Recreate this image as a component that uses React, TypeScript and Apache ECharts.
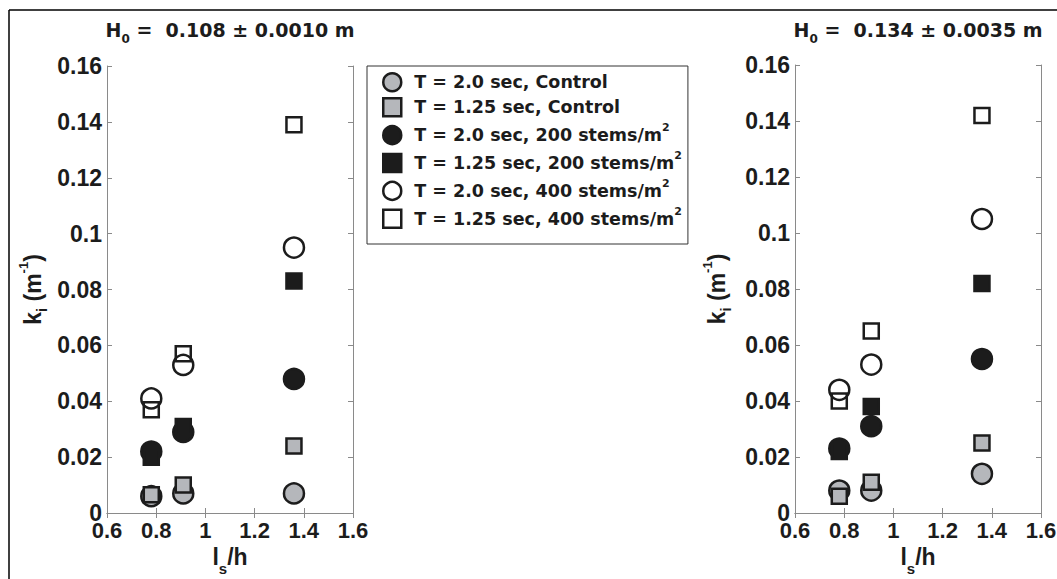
import React, { useEffect, useRef } from "react";
import * as echarts from "echarts";

// ---- data ----
const X_VALUES = [0.78, 0.91, 1.36];
const X_TICKS = { min: 0.6, max: 1.6, interval: 0.2 };
const Y_TICKS = { min: 0, max: 0.16, interval: 0.02 };

const SERIES_NAMES = [
  "T = 2.0 sec, Control",
  "T = 1.25 sec, Control",
  "T = 2.0 sec, 200 stems/m²",
  "T = 1.25 sec, 200 stems/m²",
  "T = 2.0 sec, 400 stems/m²",
  "T = 1.25 sec, 400 stems/m²",
];

const PANEL_TITLES = ["0.108 ± 0.0010 m", "0.134 ± 0.0035 m"];

// left panel (H0 = 0.108 m)
const LEFT_CTRL_T20 = [0.006, 0.007, 0.007];
const LEFT_CTRL_T125 = [0.0065, 0.010, 0.024];
const LEFT_200_T20 = [0.022, 0.029, 0.048];
const LEFT_200_T125 = [0.020, 0.031, 0.083];
const LEFT_400_T20 = [0.041, 0.053, 0.095];
const LEFT_400_T125 = [0.037, 0.057, 0.139];

// right panel (H0 = 0.134 m)
const RIGHT_CTRL_T20 = [0.008, 0.008, 0.014];
const RIGHT_CTRL_T125 = [0.006, 0.011, 0.025];
const RIGHT_200_T20 = [0.023, 0.031, 0.055];
const RIGHT_200_T125 = [0.022, 0.038, 0.082];
const RIGHT_400_T20 = [0.044, 0.053, 0.105];
const RIGHT_400_T125 = [0.040, 0.065, 0.142];

const LEFT_VALUES = [LEFT_CTRL_T20, LEFT_CTRL_T125, LEFT_200_T20, LEFT_200_T125, LEFT_400_T20, LEFT_400_T125];
const RIGHT_VALUES = [RIGHT_CTRL_T20, RIGHT_CTRL_T125, RIGHT_200_T20, RIGHT_200_T125, RIGHT_400_T20, RIGHT_400_T125];

// ---- styles ----
const FONT = "DejaVu Sans";
const FONT2 = "Liberation Sans";
const INK = "#1c1c1c";
const GRAY = "#b5b7bb";
const AXIS_GRAY = "#8a8a8a";
const MARKERS = [
  { symbol: "circle", size: 20, fill: GRAY, icon: "circle" },
  { symbol: "rect", size: 15, fill: GRAY, icon: "rect" },
  { symbol: "circle", size: 20, fill: INK, icon: "circle" },
  { symbol: "rect", size: 15, fill: INK, icon: "rect" },
  { symbol: "circle", size: 20, fill: "rgba(255,255,255,0)", icon: "circle" },
  { symbol: "rect", size: 15, fill: "rgba(255,255,255,0)", icon: "rect" },
];

const GRIDS = [
  { left: 107, top: 66, width: 246, height: 447 },
  { left: 795, top: 65, width: 246, height: 448 },
];

const richTitle = {
  b: { fontFamily: FONT, fontWeight: "bold", fontSize: 19, color: INK, lineHeight: 30, verticalAlign: "middle" },
  sub: { fontFamily: FONT, fontWeight: "bold", fontSize: 12, color: INK, lineHeight: 12, verticalAlign: "bottom" },
};

const richAxisX = {
  b: { fontFamily: FONT2, fontWeight: "bold", fontSize: 23, color: INK, lineHeight: 38, verticalAlign: "middle" },
  sub: { fontFamily: FONT2, fontWeight: "bold", fontSize: 15, color: INK, lineHeight: 6, verticalAlign: "bottom" },
};

const richAxisY = {
  b: { fontFamily: FONT2, fontWeight: "bold", fontSize: 23, color: INK, lineHeight: 32, verticalAlign: "middle" },
  sub: { fontFamily: FONT2, fontWeight: "bold", fontSize: 15, color: INK, lineHeight: 14, verticalAlign: "bottom" },
  sup: { fontFamily: FONT2, fontWeight: "bold", fontSize: 13, color: INK, lineHeight: 13, verticalAlign: "top" },
};

const tickLabelX = { fontFamily: FONT2, fontWeight: "bold", fontSize: 22, color: INK, margin: 6 };
const tickLabelY = { fontFamily: FONT2, fontWeight: "bold", fontSize: 23, color: INK, margin: 5 };

export default function App() {
  const ref = useRef<HTMLDivElement>(null);
  useEffect(() => {
    if (!ref.current) return;
    const chart = echarts.init(ref.current, null, { renderer: "svg" });

    const xAxes: any[] = [];
    const yAxes: any[] = [];
    GRIDS.forEach((_, g) => {
      xAxes.push({
        type: "value",
        gridIndex: g,
        position: "bottom",
        ...X_TICKS,
        name: "{b|l}{sub|s}{b|/h}",
        nameLocation: "middle",
        nameGap: 24,
        nameTextStyle: { rich: richAxisX },
        axisLine: { lineStyle: { color: AXIS_GRAY, width: 1 } },
        axisTick: { inside: true, length: 5, lineStyle: { color: AXIS_GRAY } },
        axisLabel: tickLabelX,
        splitLine: { show: false },
      });
      xAxes.push({
        type: "value",
        gridIndex: g,
        position: "top",
        ...X_TICKS,
        axisLine: { lineStyle: { color: AXIS_GRAY, width: 1 } },
        axisTick: { inside: true, length: 5, lineStyle: { color: AXIS_GRAY } },
        axisLabel: { show: false },
        splitLine: { show: false },
      });
      yAxes.push({
        type: "value",
        gridIndex: g,
        position: "left",
        ...Y_TICKS,
        name: "{b|k}{sub|i}{b| (m}{sup|-1}{b|)}",
        nameLocation: "middle",
        nameRotate: 90,
        nameGap: g === 0 ? 58 : 62,
        nameTextStyle: { rich: richAxisY },
        axisLine: { show: true, lineStyle: { color: AXIS_GRAY, width: 1 } },
        axisTick: { show: true, inside: true, length: 5, lineStyle: { color: AXIS_GRAY } },
        axisLabel: tickLabelY,
        splitLine: { show: false },
      });
      yAxes.push({
        type: "value",
        gridIndex: g,
        position: "right",
        ...Y_TICKS,
        axisLine: { show: true, lineStyle: { color: AXIS_GRAY, width: 1 } },
        axisTick: { show: true, inside: true, length: 5, lineStyle: { color: AXIS_GRAY } },
        axisLabel: { show: false },
        splitLine: { show: false },
      });
    });

    const series: any[] = [];
    [LEFT_VALUES, RIGHT_VALUES].forEach((panel, g) => {
      panel.forEach((vals, s) => {
        const m = MARKERS[s];
        series.push({
          type: "scatter",
          name: SERIES_NAMES[s],
          xAxisIndex: g * 2,
          yAxisIndex: g * 2,
          symbol: m.symbol,
          symbolSize: m.size,
          itemStyle: { color: m.fill, borderColor: INK, borderWidth: 2.5, opacity: 1 },
          data: X_VALUES.map((x, i) => [x, vals[i]]),
          z: 2 + s,
        });
      });
    });

    chart.setOption({
      animation: false,
      backgroundColor: "#ffffff",
      title: PANEL_TITLES.map((t, g) => ({
        text: "{b|H}{sub|0}{b| =  " + t + "}",
        left: GRIDS[g].left + GRIDS[g].width / 2,
        top: 15,
        textAlign: "center",
        padding: 0,
        textStyle: { rich: richTitle },
      })),
      legend: {
        orient: "vertical",
        left: 367,
        top: 66,
        padding: [6, 6, 15, 15],
        itemWidth: 18,
        itemHeight: 18,
        itemGap: 4.6,
        borderColor: "#333333",
        borderWidth: 1,
        selectedMode: false,
        data: SERIES_NAMES.map((n, i) => ({ name: n, icon: MARKERS[i].icon })),
        itemStyle: { borderWidth: 2.5, borderColor: INK },
        formatter: (name: string) =>
          name.indexOf("²") >= 0 ? "{t|" + name.replace("²", "") + "}{sup|2}" : "{t|" + name + "}",
        textStyle: {
          padding: [0, 0, 0, 8],
          rich: {
            t: { fontFamily: FONT, fontWeight: "bold", fontSize: 17.5, color: INK, lineHeight: 26, verticalAlign: "middle" },
            sup: { fontFamily: FONT, fontWeight: "bold", fontSize: 11, color: INK, lineHeight: 11, verticalAlign: "top" },
          },
        },
      },
      grid: GRIDS.map((g) => ({ ...g, containLabel: false, outerBoundsMode: "none" })),
      xAxis: xAxes,
      yAxis: yAxes,
      series,
      graphic: [
        { type: "line", shape: { x1: 9, y1: 10, x2: 1057, y2: 10 }, style: { stroke: "#000", lineWidth: 1.5 } },
        { type: "line", shape: { x1: 9, y1: 10, x2: 9, y2: 579 }, style: { stroke: "#000", lineWidth: 1.5 } },
      ],
    });
    return () => chart.dispose();
  }, []);
  return <div ref={ref} style={{ position: "fixed", left: 0, top: 0, width: 1057, height: 579 }} />;
}
